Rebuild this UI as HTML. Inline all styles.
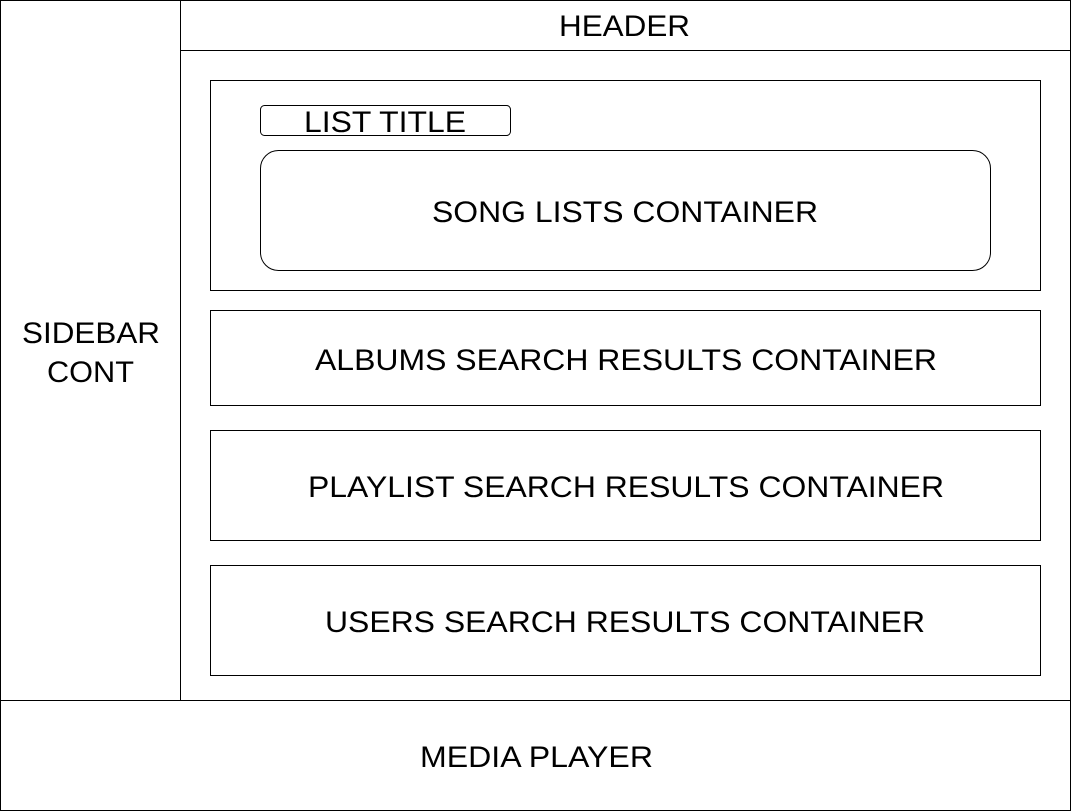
<!DOCTYPE html>
<html><head><meta charset="utf-8"><style>
html,body{margin:0;padding:0;background:#fff;}
svg{display:block;}
text{font-family:"Liberation Sans",Arial,sans-serif;font-size:30px;fill:#000;}
</style></head><body>
<svg width="1071" height="811" viewBox="0 0 1071 811" xmlns="http://www.w3.org/2000/svg">
<g fill="none" stroke="#000" stroke-width="1">
<rect x="0.5" y="0.5" width="1070" height="810"/>
<line x1="180.5" y1="0" x2="180.5" y2="700"/>
<line x1="180" y1="50.5" x2="1071" y2="50.5"/>
<line x1="0" y1="700.5" x2="1071" y2="700.5"/>
<rect x="210.5" y="80.5" width="830" height="210"/>
<rect x="260.5" y="105.5" width="250" height="30" rx="4"/>
<rect x="260.5" y="150.5" width="730" height="120" rx="18"/>
<rect x="210.5" y="310.5" width="830" height="95"/>
<rect x="210.5" y="430.5" width="830" height="110"/>
<rect x="210.5" y="565.5" width="830" height="110"/>
</g>
<g>
<text x="559" y="36" textLength="131" lengthAdjust="spacingAndGlyphs">HEADER</text>
<text x="22" y="343" textLength="138" lengthAdjust="spacingAndGlyphs">SIDEBAR</text>
<text x="47" y="382" textLength="87" lengthAdjust="spacingAndGlyphs">CONT</text>
<text x="304" y="132" textLength="162" lengthAdjust="spacingAndGlyphs">LIST TITLE</text>
<text x="432" y="222" textLength="386" lengthAdjust="spacingAndGlyphs">SONG LISTS CONTAINER</text>
<text x="315" y="370" textLength="622" lengthAdjust="spacingAndGlyphs">ALBUMS SEARCH RESULTS CONTAINER</text>
<text x="308" y="497" textLength="636" lengthAdjust="spacingAndGlyphs">PLAYLIST SEARCH RESULTS CONTAINER</text>
<text x="325" y="632" textLength="600" lengthAdjust="spacingAndGlyphs">USERS SEARCH RESULTS CONTAINER</text>
<text x="420" y="767" textLength="233" lengthAdjust="spacingAndGlyphs">MEDIA PLAYER</text>
</g>
</svg>
</body></html>
